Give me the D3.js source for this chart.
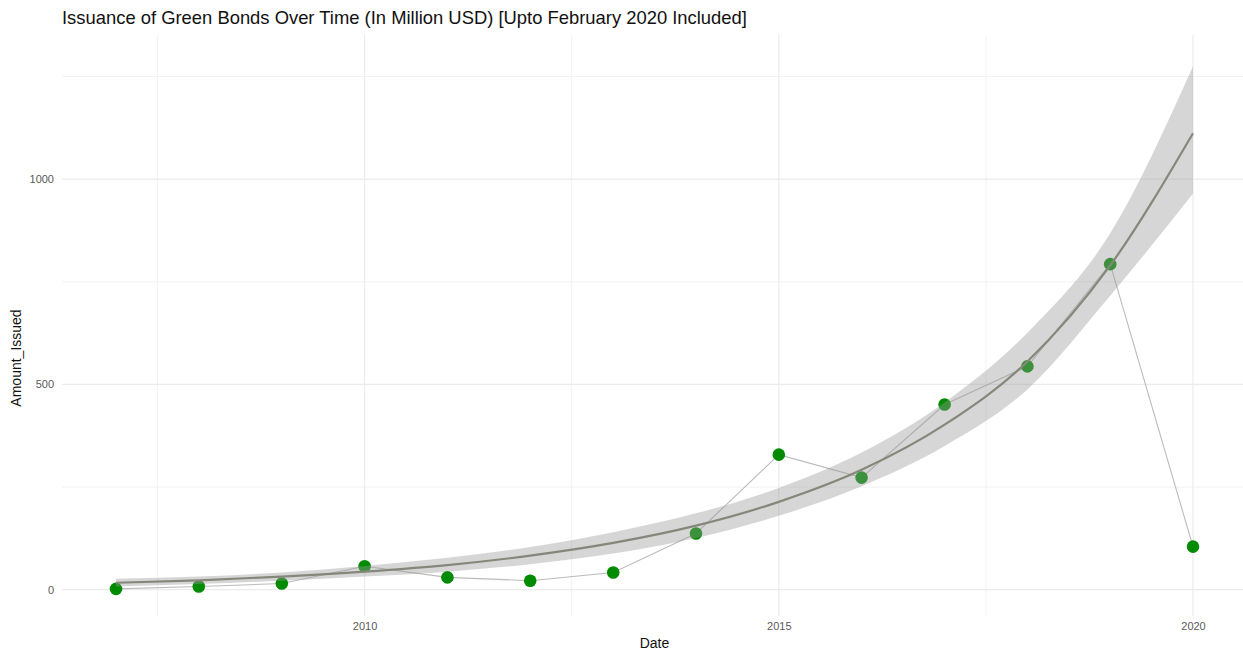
<!DOCTYPE html>
<html>
<head>
<meta charset="utf-8">
<script src="https://cdn.jsdelivr.net/npm/d3@7"></script>
<style>
  html, body { margin: 0; padding: 0; background: #ffffff; }
  svg { display: block; font-family: "Liberation Sans", Arial, Helvetica, sans-serif; }
</style>
</head>
<body>
<svg id="chart" width="1243" height="654"></svg>
<script>
// Yearly issuance (million USD); 2020 covers January–February only
const years = [2007, 2008, 2009, 2010, 2011, 2012, 2013, 2014, 2015, 2016, 2017, 2018, 2019, 2020];
const amountIssued = [2, 8, 15, 57, 30, 22, 42, 137, 329, 273, 451, 544, 793, 105];

// Smoothed trend with its confidence band
const trendFit   = [17, 23, 32, 44, 60, 83, 114, 156, 214, 292, 402, 556, 790, 1112];
const trendLower = [8, 14, 22, 32, 44, 62, 88, 126, 180, 252, 350, 488, 716, 965];
const trendUpper = [27, 32, 42, 58, 78, 104, 140, 186, 248, 334, 456, 626, 868, 1275];

const xMajorTicks = [2010, 2015, 2020];
const xMinorTicks = [2007.5, 2012.5, 2017.5];
const yMajorTicks = [0, 500, 1000];
const yMinorTicks = [250, 750, 1250];

const titleText = "Issuance of Green Bonds Over Time (In Million USD) [Upto February 2020 Included]";
const xTitle = "Date";
const yTitle = "Amount_Issued";

const svg = d3.select("#chart");
const W = 1243, H = 654;

const panel = { left: 62, right: 1247, top: 40, bottom: 616 };

const toDate = y => {
  const yr = Math.floor(y);
  const start = new Date(yr, 0, 1), end = new Date(yr + 1, 0, 1);
  return new Date(+start + (y - yr) * (end - start));
};

const x = d3.scaleTime()
  .domain([toDate(2007), toDate(2020)])
  .range([116, 1193]);

const y = d3.scaleLinear()
  .domain([-64, 1339])
  .range([panel.bottom, panel.top]);

const rows = years.map((yr, i) => ({
  date: toDate(yr),
  value: amountIssued[i],
  fit: trendFit[i],
  lo: trendLower[i],
  hi: trendUpper[i]
}));

// Grid
const grid = svg.append("g");
grid.selectAll(".ymin").data(yMinorTicks).join("line")
  .attr("x1", panel.left).attr("x2", W)
  .attr("y1", d => y(d)).attr("y2", d => y(d))
  .attr("stroke", "#f2f2f2").attr("stroke-width", 1);
grid.selectAll(".xmin").data(xMinorTicks).join("line")
  .attr("x1", d => x(toDate(d))).attr("x2", d => x(toDate(d)))
  .attr("y1", panel.top - 5).attr("y2", panel.bottom)
  .attr("stroke", "#f2f2f2").attr("stroke-width", 1);
grid.selectAll(".ymaj").data(yMajorTicks).join("line")
  .attr("x1", panel.left).attr("x2", W)
  .attr("y1", d => y(d)).attr("y2", d => y(d))
  .attr("stroke", "#ebebeb").attr("stroke-width", 1.2);
grid.selectAll(".xmaj").data(xMajorTicks).join("line")
  .attr("x1", d => x(toDate(d))).attr("x2", d => x(toDate(d)))
  .attr("y1", panel.top - 5).attr("y2", panel.bottom)
  .attr("stroke", "#ebebeb").attr("stroke-width", 1.2);

// Axes (labels only, minimal theme)
const xAxis = d3.axisBottom(x)
  .tickValues(xMajorTicks.map(toDate))
  .tickFormat(d3.timeFormat("%Y"))
  .tickSize(0).tickPadding(6);
const gx = svg.append("g").attr("transform", `translate(0,${panel.bottom})`).call(xAxis);
gx.select(".domain").remove();
gx.selectAll("text").attr("fill", "#5a5a5a").style("font-size", "11px");

const yAxis = d3.axisLeft(y)
  .tickValues(yMajorTicks)
  .tickFormat(d3.format("d"))
  .tickSize(0).tickPadding(8);
const gy = svg.append("g").attr("transform", `translate(${panel.left},0)`).call(yAxis);
gy.select(".domain").remove();
gy.selectAll("text").attr("fill", "#5a5a5a").style("font-size", "11px");

// Connecting line between yearly values
svg.append("path")
  .datum(rows)
  .attr("fill", "none")
  .attr("stroke", "#bbbbbb")
  .attr("stroke-width", 1.1)
  .attr("d", d3.line().x(d => x(d.date)).y(d => y(d.value)));

// Yearly points
svg.append("g").selectAll("circle").data(rows).join("circle")
  .attr("cx", d => x(d.date))
  .attr("cy", d => y(d.value))
  .attr("r", 6.3)
  .attr("fill", "#008b00");

// Confidence band
svg.append("path")
  .datum(rows)
  .attr("fill", "#999999")
  .attr("fill-opacity", 0.4)
  .attr("d", d3.area()
    .curve(d3.curveMonotoneX)
    .x(d => x(d.date)).y0(d => y(d.lo)).y1(d => y(d.hi)));

// Trend line
svg.append("path")
  .datum(rows)
  .attr("fill", "none")
  .attr("stroke", "#86877b")
  .attr("stroke-width", 2.2)
  .attr("d", d3.line().curve(d3.curveMonotoneX).x(d => x(d.date)).y(d => y(d.fit)));

// Titles
svg.append("text")
  .attr("x", 62).attr("y", 24)
  .attr("fill", "#111")
  .style("font-size", "18.4px")
  .text(titleText);

svg.append("text")
  .attr("x", (panel.left + panel.right) / 2).attr("y", 648)
  .attr("text-anchor", "middle")
  .attr("fill", "#111")
  .style("font-size", "14px")
  .text(xTitle);

svg.append("text")
  .attr("transform", `translate(21,${(panel.top + panel.bottom) / 2 + 30}) rotate(-90)`)
  .attr("text-anchor", "middle")
  .attr("fill", "#111")
  .style("font-size", "14px")
  .text(yTitle);
</script>
</body>
</html>
